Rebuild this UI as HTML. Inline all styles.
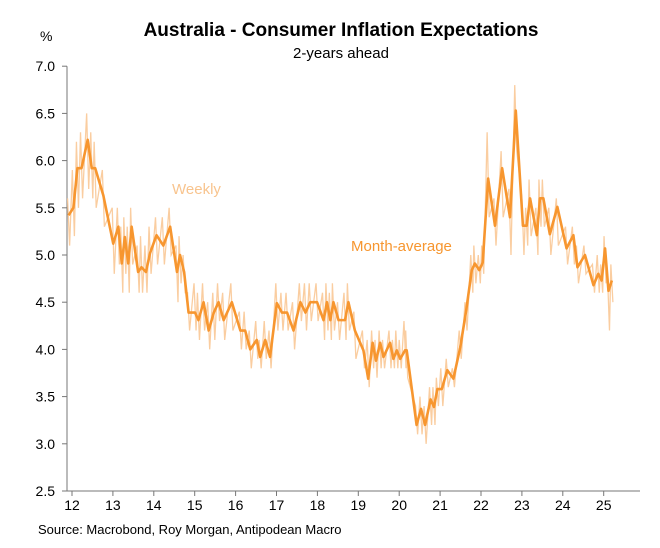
<!DOCTYPE html>
<html><head><meta charset="utf-8"><style>
body{margin:0;background:#fff;width:660px;height:543px;overflow:hidden;font-family:"Liberation Sans",sans-serif}
svg text{font-family:"Liberation Sans",sans-serif}
</style></head><body>
<svg id="c" width="660" height="543">
<text x="341" y="36" text-anchor="middle" font-size="19" font-weight="bold" fill="#000">Australia - Consumer Inflation Expectations</text>
<text x="341" y="58" text-anchor="middle" font-size="15" fill="#000">2-years ahead</text>
<text x="40" y="41" font-size="14" fill="#000">%</text>
<text x="38" y="534" font-size="13" fill="#000">Source: Macrobond, Roy Morgan, Antipodean Macro</text>
<g id="axes"></g>
<g id="series"></g>
<text x="172" y="194" font-size="15" fill="#f8c48e">Weekly</text>
<text x="351" y="251" font-size="15" fill="#f7962f">Month-average</text>
</svg>
<script>
const yTicks=[2.5,3.0,3.5,4.0,4.5,5.0,5.5,6.0,6.5,7.0];
const xTicks=[12,13,14,15,16,17,18,19,20,21,22,23,24,25];
// months since Jan 2012
const monthIdx=[-1,0.4,1.6,2.8,4.6,5.8,6.8,9.2,12.1,13.6,14.6,15.5,16.5,17.5,19.4,20.4,21.7,22.9,24.8,26.8,28.8,30.8,31.7,32.9,34.2,36.1,37.1,38.6,40.1,41.6,43.0,44.5,46.9,49.4,50.8,52.3,54.2,55.2,56.7,58.1,60.1,61.6,63.1,65.0,67,68.5,69.9,71.9,73.8,74.8,75.8,76.7,78.2,80.1,81.1,83.0,85.5,86.9,88.2,89.2,90.4,91.4,93.3,94.3,95.3,96.3,97.7,98.2,101.1,102.4,103.6,105.2,106.2,107.2,108.5,110.1,111.9,113.9,115.6,117.3,118.2,119.5,120.5,122.1,124.1,126.2,128.5,130.2,132.3,133.4,134.4,136.4,137.3,138.3,140.2,142.4,145.1,147.1,148.3,150.5,153,154.4,155.4,156.4,157.4,158.4];
const monthly=[5.42,5.5,5.92,5.92,6.22,5.92,5.92,5.63,5.12,5.3,4.91,5.19,4.91,5.3,4.82,4.87,4.82,5.02,5.21,5.1,5.3,4.82,5.0,4.82,4.39,4.39,4.31,4.5,4.2,4.39,4.5,4.31,4.5,4.2,4.2,4.0,4.1,3.92,4.1,3.92,4.49,4.39,4.39,4.2,4.5,4.39,4.5,4.5,4.31,4.5,4.31,4.5,4.31,4.31,4.5,4.2,3.99,3.69,4.07,3.88,4.07,3.92,4.07,3.9,3.99,3.9,3.99,3.99,3.2,3.37,3.2,3.47,3.39,3.58,3.58,3.78,3.69,4.02,4.4,4.84,4.91,4.84,4.92,5.81,5.31,5.92,5.4,6.53,5.31,5.31,5.6,5.21,5.6,5.6,5.22,5.51,5.07,5.21,4.87,5.0,4.68,4.8,4.73,5.07,4.62,4.73];
const weeklyHi=[5.6,5.9,6.2,6.3,6.5,6.3,6.2,5.9,5.5,5.5,5.3,5.4,5.3,5.5,5.1,5.2,5.1,5.3,5.4,5.4,5.5,5.1,5.2,5.0,4.6,4.7,4.6,4.7,4.5,4.6,4.7,4.6,4.7,4.4,4.4,4.2,4.3,4.1,4.3,4.2,4.7,4.6,4.6,4.5,4.7,4.7,4.7,4.7,4.6,4.7,4.6,4.7,4.5,4.6,4.7,4.4,4.2,4.1,4.2,4.1,4.2,4.1,4.2,4.1,4.2,4.1,4.3,4.2,3.4,3.5,3.4,3.6,3.6,3.7,3.8,3.9,3.8,4.2,4.5,5.0,5.1,5.0,5.1,6.3,5.6,6.1,5.7,6.8,5.6,5.5,5.8,5.5,5.8,5.8,5.5,5.6,5.3,5.3,5.1,5.1,4.9,5.0,4.9,5.2,4.8,4.9];
const weeklyLo=[5.1,5.2,5.5,5.6,5.7,5.6,5.5,5.3,4.8,4.9,4.6,4.8,4.6,4.9,4.6,4.6,4.6,4.8,4.9,4.9,5.0,4.5,4.7,4.6,4.2,4.2,4.1,4.2,4.0,4.1,4.3,4.1,4.2,4.0,4.0,3.8,3.9,3.8,3.9,3.8,4.2,4.2,4.2,4.0,4.3,4.2,4.3,4.3,4.1,4.2,4.1,4.2,4.1,4.1,4.2,3.9,3.8,3.6,3.8,3.7,3.8,3.8,3.8,3.8,3.8,3.8,3.8,3.7,3.1,3.1,3.0,3.2,3.2,3.4,3.4,3.6,3.6,3.9,4.2,4.6,4.7,4.7,4.8,5.4,5.1,5.4,5.0,6.1,5.0,5.1,5.2,5.0,5.3,5.3,5.0,5.1,4.9,4.9,4.7,4.8,4.6,4.6,4.6,4.7,4.2,4.5];
const X0=72,YR=40.9,Y0=491,PU=94.4;
const xs=m=>X0+m/12*YR;
const ys=v=>Y0-(v-2.5)*PU;
const NS='http://www.w3.org/2000/svg';
function mk(t,a,p){const e=document.createElementNS(NS,t);for(const k in a)e.setAttribute(k,a[k]);p.appendChild(e);return e;}
const ax=document.getElementById('axes'),sr=document.getElementById('series');
let yl=mk('line',{x1:67,y1:ys(7),x2:67,y2:Y0,stroke:'#777','stroke-width':1},ax);


let xl=mk('line',{x1:67,y1:Y0,x2:640,y2:Y0,stroke:'#777','stroke-width':1},ax);


yTicks.forEach(v=>{
 const tk=mk('line',{x1:62,y1:ys(v),x2:67,y2:ys(v),stroke:'#777'},ax);
 
 
 const t=mk('text',{x:55,y:ys(v)+5,'text-anchor':'end','font-size':14,fill:'#000'},ax);
 t.textContent=v.toFixed(1);
 
 
});
xTicks.forEach(y=>{
 const x=xs((y-12)*12);
 const tk=mk('line',{x1:x,y1:Y0,x2:x,y2:Y0+5,stroke:'#777'},ax);
 
 
 const t=mk('text',{x:x,y:Y0+19,'text-anchor':'middle','font-size':14,fill:'#000'},ax);
 t.textContent=y;
 
 
});
let wp=[];
for(let i=0;i<monthIdx.length;i++){
 wp.push(xs(monthIdx[i]-0.3)+','+ys(weeklyHi[i]));
 wp.push(xs(monthIdx[i]+0.3)+','+ys(weeklyLo[i]));
}
const w=mk('polyline',{points:wp.join(' '),fill:'none',stroke:'#f9c896','stroke-width':1.3,opacity:0.9},sr);


const m=mk('polyline',{points:monthly.map((v,i)=>xs(monthIdx[i])+','+ys(v)).join(' '),fill:'none',stroke:'#f7962f','stroke-width':2.6,'stroke-linejoin':'round'},sr);


</script>
</body></html>
